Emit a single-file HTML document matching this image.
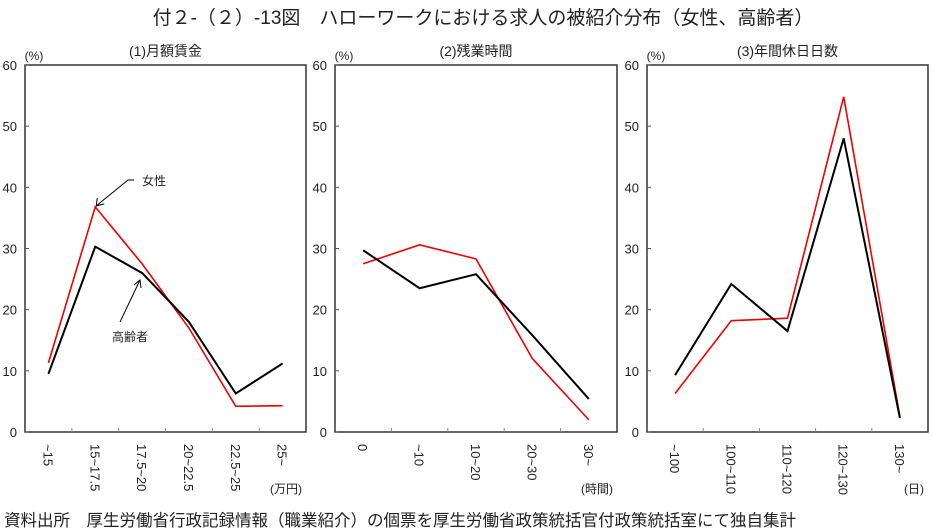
<!DOCTYPE html>
<html><head><meta charset="utf-8">
<style>
body{margin:0;background:#fff;width:933px;height:529px;overflow:hidden;font-family:"Liberation Sans","Noto Sans CJK JP",sans-serif;}
svg{display:block}
</style></head>
<body>
<svg id="chart" width="933" height="529" xmlns="http://www.w3.org/2000/svg" font-family="Liberation Sans, Noto Sans CJK JP, sans-serif"></svg>
<script>
const catsWage=["~15","15~17.5","17.5~20","20~22.5","22.5~25","25~"];
const femaleWage=[11.3,36.8,27.5,17,4.2,4.3];
const elderWage=[9.5,30.3,26,18,6.3,11.2];
const catsOT=["0","~10","10~20","20~30","30~"];
const femaleOT=[27.5,30.6,28.3,12,2];
const elderOT=[29.7,23.5,25.8,15.8,5.4];
const catsHol=["~100","100~110","110~120","120~130","130~"];
const femaleHol=[6.3,18.2,18.6,54.8,2.5];
const elderHol=[9.3,24.2,16.5,48,2.3];
const yTicks=[0,10,20,30,40,50,60];

const svg=document.getElementById('chart');
const NS="http://www.w3.org/2000/svg";
function mk(tag,attrs,parent){const e=document.createElementNS(NS,tag);for(const k in attrs)e.setAttribute(k,attrs[k]);(parent||svg).appendChild(e);return e;}
const yTop=65,yBot=432;
function yS(v){return yBot-(v/60)*(yBot-yTop);}

const title=mk('text',{x:483,y:24,'text-anchor':'middle','font-size':19,fill:'#222'});


title.textContent='付２-（２）-13図　ハローワークにおける求人の被紹介分布（女性、高齢者）';
const foot=mk('text',{x:4,y:526,'font-size':16.5,fill:'#222'});


foot.textContent='資料出所　厚生労働省行政記録情報（職業紹介）の個票を厚生労働省政策統括官付政策統括室にて独自集計';

function panel(id,x0,x1,cats,fem,eld,ptitle,unit){
  const g=mk('g',{});
  
  
  const n=cats.length,w=(x1-x0)/n;
  const xS=i=>x0+w*(i+0.5);
  const t=mk('text',{x:(x0+x1)/2,y:56,'text-anchor':'middle','font-size':14,fill:'#222'},g);
  
  
  t.textContent=ptitle;
  const pc=mk('text',{x:x0+9,y:60,'text-anchor':'middle','font-size':12,fill:'#222'},g);
  
  
  pc.textContent='(%)';
  const box=mk('rect',{x:x0,y:yTop,width:x1-x0,height:yBot-yTop,fill:'none',stroke:'#333','stroke-width':1.5},g);
  
  
  yTicks.forEach(v=>{
    const l=mk('text',{x:x0-8,y:yS(v)+5,'text-anchor':'end','font-size':13,fill:'#222'},g);
    
    
    l.textContent=v;
    mk('line',{x1:x0,x2:x0+4,y1:yS(v),y2:yS(v),stroke:'#555'},g);
  });
  for(let i=1;i<n;i++)mk('line',{x1:x0+w*i,x2:x0+w*i,y1:yBot,y2:yBot-4,stroke:'#888'},g);
  cats.forEach((c,i)=>{
    const l=mk('text',{x:0,y:0,'font-size':13,fill:'#222',transform:`translate(${xS(i)-5},${yBot+12}) rotate(90)`},g);
    
    
    l.textContent=c;
  });
  const u=mk('text',{x:x1-4,y:493,'text-anchor':'end','font-size':12,fill:'#222'},g);
  
  
  u.textContent=unit;
  const pf=mk('polyline',{points:fem.map((v,i)=>xS(i)+','+yS(v)).join(' '),fill:'none',stroke:'#e00','stroke-width':1.6},g);
  
  
  const pe=mk('polyline',{points:eld.map((v,i)=>xS(i)+','+yS(v)).join(' '),fill:'none',stroke:'#000','stroke-width':2},g);
  
  
  return {xS};
}
const p1=panel('panel-wage',25,306,catsWage,femaleWage,elderWage,'(1)月額賃金','(万円)');
panel('panel-overtime',335,617,catsOT,femaleOT,elderOT,'(2)残業時間','(時間)');
panel('panel-holidays',647,928,catsHol,femaleHol,elderHol,'(3)年間休日日数','(日)');

const fx=p1.xS(1), fy=yS(femaleWage[1]);
const a1=mk('polyline',{points:`${fx+1},${fy-1} 128,180 134,180`,fill:'none',stroke:'#000','stroke-width':1});


mk('polyline',{points:`${fx+2},${fy-9} ${fx+1},${fy-1} ${fx+9},${fy-3}`,fill:'none',stroke:'#000'});
const t1=mk('text',{x:142,y:185,'font-size':12,fill:'#222'});


t1.textContent='女性';
const a2=mk('line',{x1:120,y1:322,x2:140,y2:280,stroke:'#000'});


mk('polyline',{points:`134,285 140,280 141,288`,fill:'none',stroke:'#000'});
const t2=mk('text',{x:112,y:341,'font-size':12,fill:'#222'});


t2.textContent='高齢者';
</script>
</body></html>
